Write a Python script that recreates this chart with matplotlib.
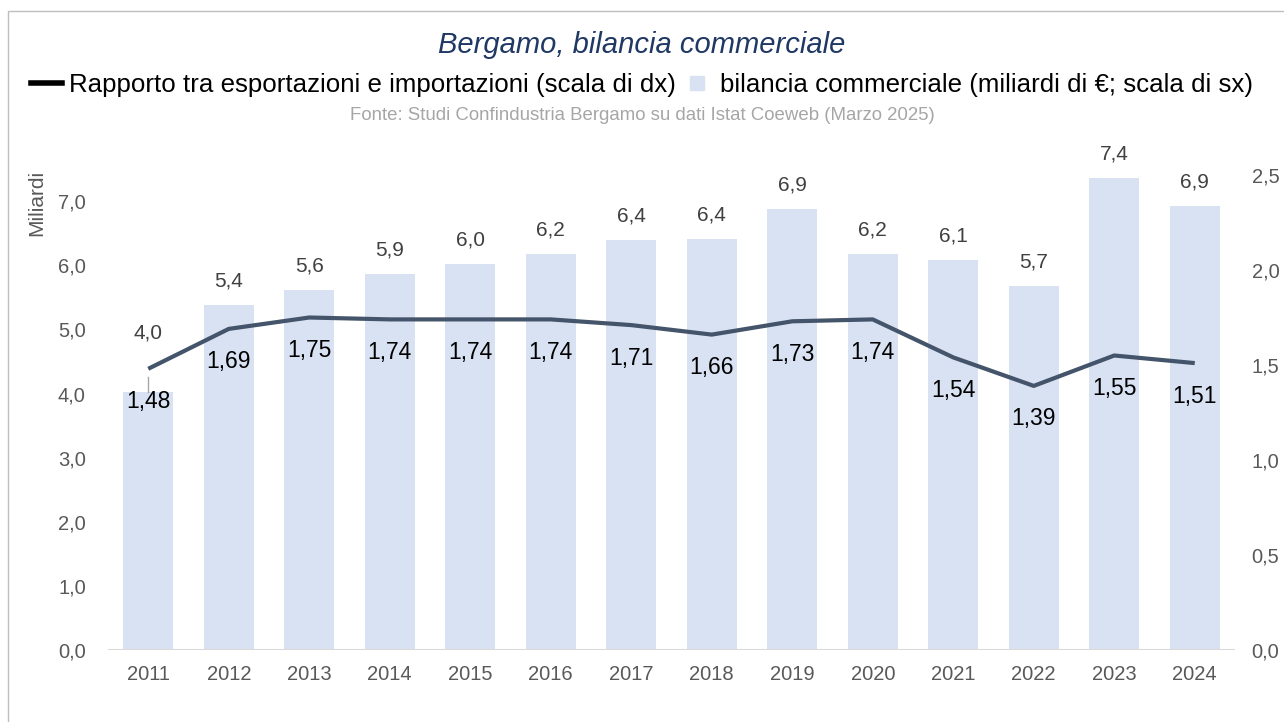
import matplotlib
matplotlib.use("Agg")
import matplotlib.pyplot as plt
from matplotlib.lines import Line2D

plt.rcParams['font.family'] = ['Liberation Sans Narrow', 'Liberation Sans', 'DejaVu Sans']

# dati
anni = ['2011', '2012', '2013', '2014', '2015', '2016', '2017',
        '2018', '2019', '2020', '2021', '2022', '2023', '2024']
bilancia = [4.02, 5.38, 5.61, 5.87, 6.02, 6.17, 6.39,
            6.41, 6.88, 6.18, 6.08, 5.68, 7.36, 6.92]
rapporto = [1.48, 1.69, 1.75, 1.74, 1.74, 1.74, 1.71,
            1.66, 1.73, 1.74, 1.54, 1.39, 1.55, 1.51]

col_barre = '#D9E2F3'
col_linea = '#44546A'
col_tick = '#595959'

fig = plt.figure(figsize=(12.84, 7.22), dpi=100)
ax = fig.add_axes([108 / 1284, 72 / 722, (1235 - 108) / 1284, (650 - 137) / 722])
ax2 = ax.twinx()

x = list(range(len(anni)))
ax.bar(x, bilancia, width=0.62, color=col_barre, zorder=1)
ax2.plot(x, rapporto, color=col_linea, linewidth=3, zorder=3, solid_capstyle='butt')

ax.set_xlim(-0.5, len(anni) - 0.5)
ax.set_ylim(0, 8)
ax2.set_ylim(0, 2.7)
ax.set_yticks([0, 1, 2, 3, 4, 5, 6, 7])
ax2.set_yticks([0, 0.5, 1.0, 1.5, 2.0, 2.5])
ax.set_yticklabels([f'{v:.1f}'.replace('.', ',') for v in ax.get_yticks()])
ax2.set_yticklabels([f'{v:.1f}'.replace('.', ',') for v in ax2.get_yticks()])
ax.set_xticks(x)
ax.set_xticklabels(anni)

for a in (ax, ax2):
    for s in a.spines.values():
        s.set_visible(False)
    a.tick_params(length=0, labelsize=14.5, labelcolor=col_tick)
ax.tick_params(axis='y', pad=16)
ax2.tick_params(axis='y', pad=12)
ax.tick_params(axis='x', pad=11)
ax.axhline(0, color='#D9D9D9', linewidth=1.5, zorder=2)

# etichette barre
for i, v in enumerate(bilancia):
    txt = f'{v:.1f}'.replace('.', ',')
    if i == 0:
        ax.text(i, 4.94, txt, ha='center', va='center', fontsize=15, color='#404040', zorder=4)
        ax.plot([i, i], [4.02, 4.26], color='#A6A6A6', linewidth=1, zorder=4)
    else:
        ax.annotate(txt, (i, v), xytext=(0, 24), textcoords='offset pixels',
                    ha='center', va='center', fontsize=15, color='#404040')

# etichette linea
for i, v in enumerate(rapporto):
    ax2.annotate(f'{v:.2f}'.replace('.', ','), (i, v), xytext=(0, -33), textcoords='offset pixels',
                 ha='center', va='center', fontsize=16.5, color='black', zorder=5)

fig.text(0.5, 1 - 45 / 722, 'Bergamo, bilancia commerciale', ha='center', va='center',
         fontsize=21, style='italic', color='#1F3864')
fig.text(0.5, 1 - 116 / 722, 'Fonte: Studi Confindustria Bergamo su dati Istat Coeweb (Marzo 2025)',
         ha='center', va='center', fontsize=13.4, color='#A6A6A6')
fig.text(37 / 1284, 1 - 203 / 722, 'Miliardi', rotation=90, ha='center', va='center',
         fontsize=15, color=col_tick)

handles = [Line2D([], [], color='black', linewidth=4),
           Line2D([], [], marker='s', linestyle='none', markersize=10, color=col_barre)]
labels = ['Rapporto tra esportazioni e importazioni (scala di dx)',
          'bilancia commerciale (miliardi di €; scala di sx)']
fig.legend(handles, labels, loc='center', bbox_to_anchor=(0.5, 1 - 85 / 722), ncol=2,
           frameon=False, fontsize=18.6, handlelength=1.2, handletextpad=0.3, columnspacing=0.2)

# bordo (solo lato sinistro e superiore visibili)
fig.add_artist(Line2D([8 / 1284, 8 / 1284, 1], [0, 1 - 11 / 722, 1 - 11 / 722],
                      transform=fig.transFigure, color='#BFBFBF', linewidth=1))

fig.savefig('out.png', dpi=100)
